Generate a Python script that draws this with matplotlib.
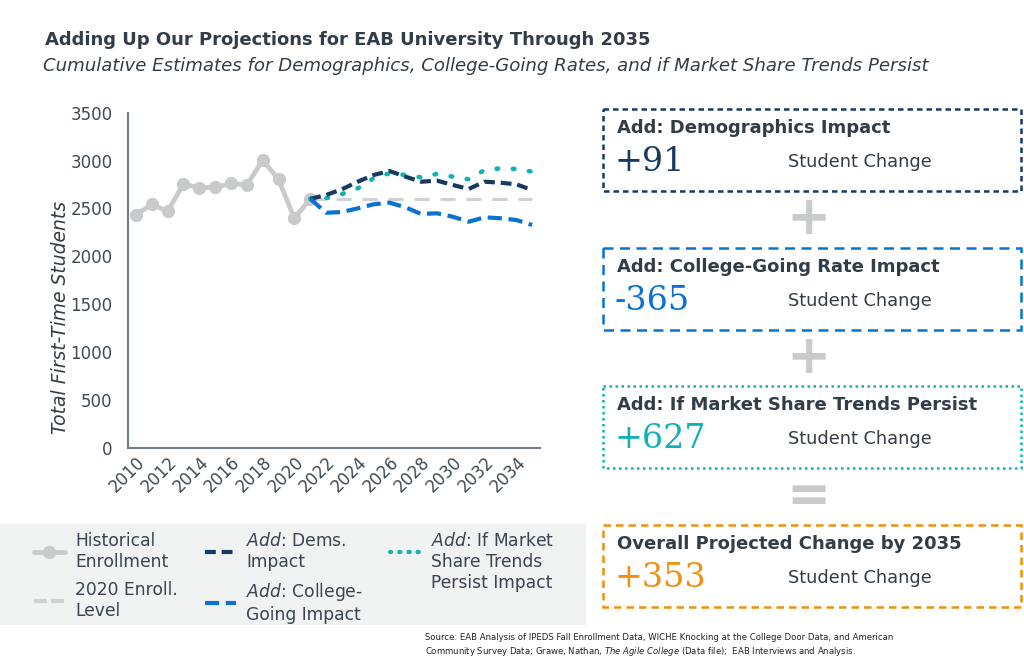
import numpy as np
import matplotlib
matplotlib.use("Agg")
import matplotlib.pyplot as plt
from matplotlib.patches import Rectangle
from matplotlib.lines import Line2D

plt.rcParams['font.family'] = ['DejaVu Sans']
plt.rcParams['mathtext.fontset'] = 'custom'
plt.rcParams['mathtext.it'] = 'DejaVu Sans:italic'
plt.rcParams['mathtext.rm'] = 'DejaVu Sans'

# data
years = list(range(2010, 2036))
hist_years = list(range(2010, 2022))
hist = [2434, 2542, 2469, 2755, 2716, 2720, 2762, 2744, 3005, 2803, 2396, 2601]
proj_years = list(range(2021, 2036))
level_2020 = [2600] * len(proj_years)
dems = [2600, 2640, 2700, 2779, 2849, 2891, 2832, 2779, 2790, 2745, 2703, 2779, 2769, 2752, 2692]
college = [2600, 2455, 2462, 2501, 2543, 2560, 2512, 2442, 2449, 2413, 2361, 2407, 2397, 2379, 2327]
market = [2600, 2606, 2650, 2710, 2815, 2867, 2849, 2825, 2860, 2832, 2804, 2901, 2919, 2912, 2884]

box_titles = ['Add: Demographics Impact', 'Add: College-Going Rate Impact',
              'Add: If Market Share Trends Persist', 'Overall Projected Change by 2035']
box_values = ['+91', '-365', '+627', '+353']

TXT = '#333d47'
LEGTXT = '#3a4450'
GRAY = '#c8cacc'
NAVY = '#173a63'
BLUE = '#0a72d2'
TEAL = '#13b1b6'
ORANGE = '#f0900f'

W, H = 1024, 663
fig = plt.figure(figsize=(W / 100, H / 100), dpi=100)

# overlay in pixel coords for boxes / text
ov = fig.add_axes([0, 0, 1, 1])
ov.set_xlim(0, W)
ov.set_ylim(H, 0)
ov.axis('off')

ov.text(45, 40, 'Adding Up Our Projections for EAB University Through 2035',
        fontsize=13, fontweight='bold', color=TXT, va='center')
ov.text(43, 66, 'Cumulative Estimates for Demographics, College-Going Rates, and if Market Share Trends Persist',
        fontsize=13.1, style='italic', color=TXT, va='center')

# main chart
ax = fig.add_axes([128 / W, (H - 447.7) / H, 412 / W, 335 / H])
x_idx = {y: i for i, y in enumerate(years)}
hx = [x_idx[y] for y in hist_years]
px = [x_idx[y] for y in proj_years]

l_hist, = ax.plot(hx, hist, color=GRAY, lw=3.4, marker='o', ms=8.5, solid_capstyle='round', zorder=3)
l_lev, = ax.plot(px, level_2020, color='#cfd1d3', lw=2.2, dashes=(5, 3.5), zorder=2)
l_dem, = ax.plot(px, dems, color=NAVY, lw=3, dashes=(2.6, 1.4), zorder=4)
l_col, = ax.plot(px, college, color=BLUE, lw=3, dashes=(3.4, 1.6), zorder=4)
l_mkt, = ax.plot(px, market, color=TEAL, lw=3.3, dashes=(0.35, 3.2), dash_capstyle='round', zorder=3)

ax.set_xlim(-0.5, len(years) - 0.5)
ax.set_ylim(0, 3500)
ax.set_yticks(range(0, 3501, 500))
ax.set_xticks([x_idx[y] for y in years[::2]])
ax.set_xticklabels([str(y) for y in years[::2]], rotation=45, ha='right',
                   rotation_mode='anchor', fontsize=12, color='#404a55')
ax.tick_params(axis='y', labelsize=12, colors='#404a55', length=0, pad=11)
ax.tick_params(axis='x', length=0, pad=4)
for s in ['top', 'right']:
    ax.spines[s].set_visible(False)
for s in ['left', 'bottom']:
    ax.spines[s].set_color('#737c85')
    ax.spines[s].set_linewidth(1.5)
ax.set_ylabel('Total First-Time Students', fontsize=13.5, style='italic', color=TXT)
ax.yaxis.set_label_coords(-0.14, 0.39)

# legend panel
ov.add_patch(Rectangle((0, 523), 586, 102, facecolor='#f1f2f2', edgecolor='none', zorder=0))
labels = ['Historical\nEnrollment', '2020 Enroll.\nLevel',
          '$\\it{Add}$: Dems.\nImpact', '$\\it{Add}$: College-\nGoing Impact',
          '$\\it{Add}$: If Market\nShare Trends', 'Persist Impact']
# legend-only samples with tighter patterns
h_lev = Line2D([], [], color='#cfd1d3', lw=3, dashes=(3.1, 1.0))
h_mkt = Line2D([], [], color=TEAL, lw=3, dashes=(0.3, 1.9), dash_capstyle='round')
leg_kw = dict(loc='upper left', frameon=False, fontsize=12.3, labelcolor=LEGTXT,
              handlelength=1.8, handletextpad=0.6, columnspacing=1.6,
              labelspacing=0.6, borderpad=0.2)
leg1 = fig.legend([l_hist, h_lev, l_dem, l_col], labels[:4], ncol=2,
                  bbox_to_anchor=(22 / W, (H - 520) / H), **leg_kw)
leg2 = fig.legend([h_mkt], [labels[4]], bbox_to_anchor=(378 / W, (H - 520) / H), **leg_kw)
fig.canvas.draw()
bb = leg2.get_texts()[0].get_window_extent()
fig.text(bb.x0 / W, (bb.y0 - 3) / H, labels[5], fontsize=12.3, color=LEGTXT, va='top')

# right-hand boxes
box_tops = [109, 248, 386, 525]
box_styles = [(NAVY, (0, (2.2, 1.6))), (BLUE, (0, (4, 2.6))),
              (TEAL, (0, (1, 1.4))), (ORANGE, (0, (3, 2)))]
for top, title, val, (c, ls) in zip(box_tops, box_titles, box_values, box_styles):
    ov.add_patch(Rectangle((603, top), 418, 82, facecolor='none', edgecolor=c,
                           lw=1.8, linestyle=ls, zorder=2))
    ov.text(617, top + 19, title, fontsize=13, fontweight='bold', color=TXT, va='center')
    ov.text(615, top + 53, val, fontsize=24, color=c, va='center', family='DejaVu Serif')
    ov.text(788, top + 53, 'Student Change', fontsize=12.8, color=TXT, va='center')

for y in [219, 358]:
    ov.text(808, y, '+', fontsize=38, color=GRAY, ha='center', va='center', fontweight='bold')
ov.text(808, 497, '=', fontsize=38, color=GRAY, ha='center', va='center', fontweight='bold')

ov.text(425, 637, 'Source: EAB Analysis of IPEDS Fall Enrollment Data, WICHE Knocking at the College Door Data, and American',
        fontsize=6.1, color='#222222', va='center')
ov.text(425, 651, 'Community Survey Data; Grawe, Nathan, $\\it{The\\ Agile\\ College}$ (Data file);  EAB Interviews and Analysis.',
        fontsize=6.1, color='#222222', va='center')

fig.savefig('out.png', dpi=100)
